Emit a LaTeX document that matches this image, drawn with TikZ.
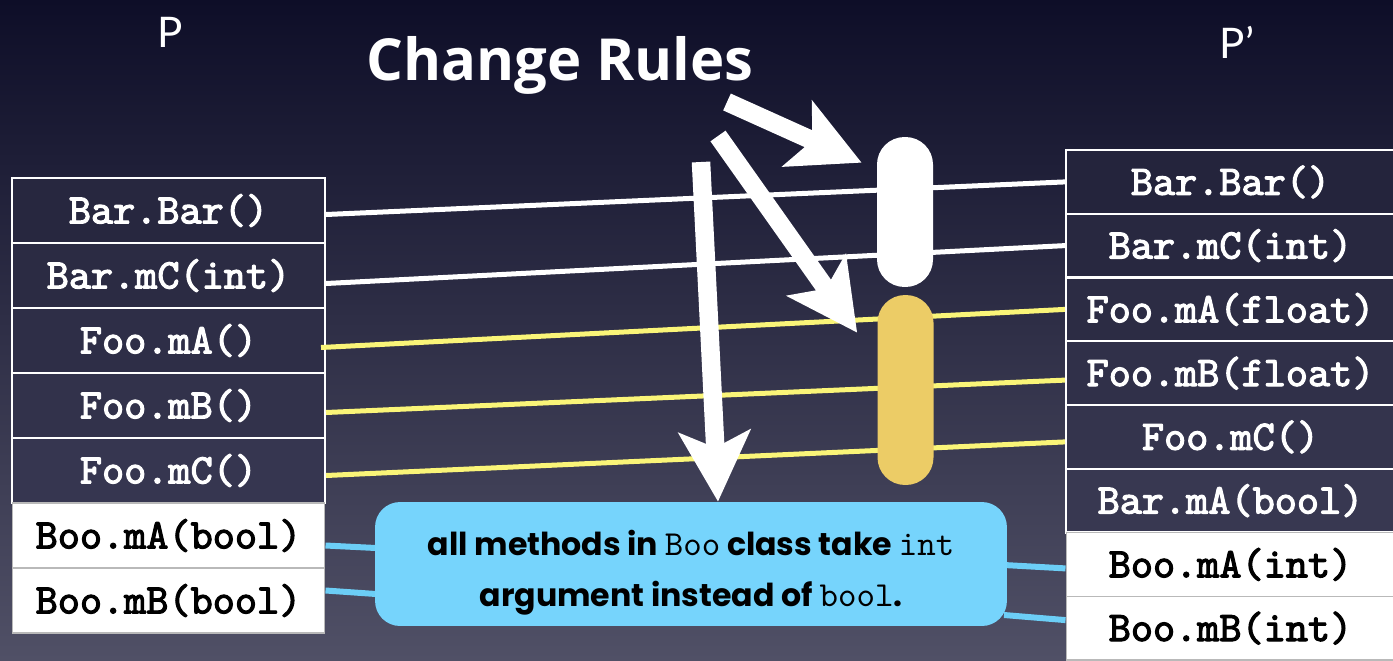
\documentclass[tikz,border=0pt]{standalone}
\usepackage{fontspec}
\setmainfont{Lato}
\setmonofont{lmmono10-regular.otf}[BoldFont=lmmono10-regular.otf,
  BoldFeatures={FakeBold=2.6}]
\newfontfamily\notefont{Poppins}
\newfontfamily\headfont{Open Sans}
\usetikzlibrary{arrows.meta,calc}
\definecolor{nightsky}{RGB}{14,14,40}
\definecolor{duskgrey}{RGB}{80,80,102}
\definecolor{rowtop}{RGB}{36,36,60}
\definecolor{rowbot}{RGB}{62,62,88}
\definecolor{lemon}{RGB}{250,245,120}
\definecolor{mustard}{RGB}{236,204,102}
\definecolor{skyblue}{RGB}{118,212,252}
\definecolor{wire}{RGB}{108,206,246}

\begin{document}
\begin{tikzpicture}[x=0.02cm,y=-0.02cm,
    lrow/.style={draw=white,line width=1.2pt,minimum width=6.26cm,
                 minimum height=1.3cm,inner sep=0pt,text=white,
                 font=\fontsize{24}{26}\selectfont\ttfamily\bfseries},
    rrow/.style={lrow,minimum width=6.58cm,minimum height=1.275cm},
    fresh/.style={fill=white,draw=gray!55,line width=0.6pt,text=black},
    wline/.style={white,line width=0.1cm},
    yline/.style={lemon,line width=0.1cm},
    bline/.style={wire,line width=0.12cm},
    pill/.style={minimum width=1.12cm,rounded corners=0.55cm,inner sep=0pt},
    fat/.style={white,line width=0.37cm,
                -{Stealth[length=1.4cm,width=1.42cm,inset=0.32cm]}}
  ]
  \useasboundingbox (0,0) rectangle (1393,660);
  \shade[top color=nightsky,bottom color=duskgrey] (0,0) rectangle (1393,660);

  % old program P
  \node[lrow,fill=rowtop!90!rowbot] (lbarbar) at (168.5,210.5) {Bar.Bar()};
  \node[lrow,fill=rowtop!75!rowbot] (lbarmc)  at (168.5,275.5) {Bar.mC(int)};
  \node[lrow,fill=rowtop!60!rowbot] (lfooa)   at (168.5,340.5) {Foo.mA()};
  \node[lrow,fill=rowtop!45!rowbot] (lfoob)   at (168.5,405.5) {Foo.mB()};
  \node[lrow,fill=rowtop!30!rowbot] (lfooc)   at (168.5,470.5) {Foo.mC()};
  \node[lrow,fresh] (lbooa) at (168.5,535.5) {Boo.mA(bool)};
  \node[lrow,fresh] (lboob) at (168.5,600.5) {Boo.mB(bool)};

  % new program P'
  \node[rrow,fill=rowtop!100!rowbot] (rbarbar) at (1230.5,181.9) {Bar.Bar()};
  \node[rrow,fill=rowtop!85!rowbot]  (rbarmc)  at (1230.5,245.6) {Bar.mC(int)};
  \node[rrow,fill=rowtop!70!rowbot]  (rfooa)   at (1230.5,309.4) {Foo.mA(float)};
  \node[rrow,fill=rowtop!55!rowbot]  (rfoob)   at (1230.5,373.1) {Foo.mB(float)};
  \node[rrow,fill=rowtop!40!rowbot]  (rfooc)   at (1230.5,436.9) {Foo.mC()};
  \node[rrow,fill=rowtop!25!rowbot]  (rbarma)  at (1230.5,500.6) {Bar.mA(bool)};
  \node[rrow,fresh] (rbooa) at (1230.5,564.4) {Boo.mA(int)};
  \node[rrow,fresh] (rboob) at (1230.5,628.1) {Boo.mB(int)};

  \node[text=white,font=\fontsize{24}{28}\selectfont] (pold) at (170,32) {P};
  \node[text=white,font=\fontsize{24}{28}\selectfont] (pnew) at (1237,42) {P’};
  \node[text=white,font=\headfont\bfseries\fontsize{33}{36}\selectfont] (title) at (560,65) {Change Rules};

  % matching lines
  \draw[wline] ($(lbarbar.east)+(0,4)$) -- (rbarbar.west);
  \draw[wline] ($(lbarmc.east)+(0,8)$)  -- (rbarmc.west);
  \draw[yline] ($(lfooa.east)+(-5,7)$)  -- (rfooa.west);
  \draw[yline] ($(lfoob.east)+(0,7)$)   -- ($(rfoob.west)+(0,7)$);
  \draw[yline] ($(lfooc.east)+(0,5)$)   -- ($(rfooc.west)+(0,5)$);

  % rule note
  \draw[bline] ($(lbooa.east)+(0,10)$)  -- (376,548);
  \draw[bline] ($(lboob.east)+(0,-10)$) -- (376,594);
  \draw[bline] (1004,565) -- ($(rbooa.west)+(0,4)$);
  \draw[bline] (1004,615) -- ($(rboob.west)+(0,-8)$);
  \node[fill=skyblue,rounded corners=0.5cm,minimum width=12.64cm,
        minimum height=2.48cm] (note) at (691,564) {};
  \node[align=center,font=\notefont\bfseries\fontsize{18}{29}\selectfont]
        (notetxt) at ($(note.center)+(0,9)$)
        {all methods in {\ttfamily\mdseries\fontsize{20}{29}\selectfont Boo} class take
         {\ttfamily\mdseries\fontsize{20}{29}\selectfont int}\\
         argument instead of {\ttfamily\mdseries\fontsize{20}{29}\selectfont bool}.};

  \node[pill,fill=white,minimum height=3cm]     (wpill) at (905,212) {};
  \node[pill,fill=mustard,minimum height=3.8cm] (ypill) at (905.5,390) {};

  % rule arrows
  \coordinate (a1) at (727,102);
  \coordinate (a2) at (718,136);
  \coordinate (a3) at (701,162);
  \draw[fat] (a1) -- ($(wpill.north west)+(-15,26)$);
  \draw[fat] (a2) -- ($(ypill.north west)+(-20,38)$);
  \draw[fat] (a3) -- ($(note.north)+(27,0)$);
\end{tikzpicture}
\end{document}
